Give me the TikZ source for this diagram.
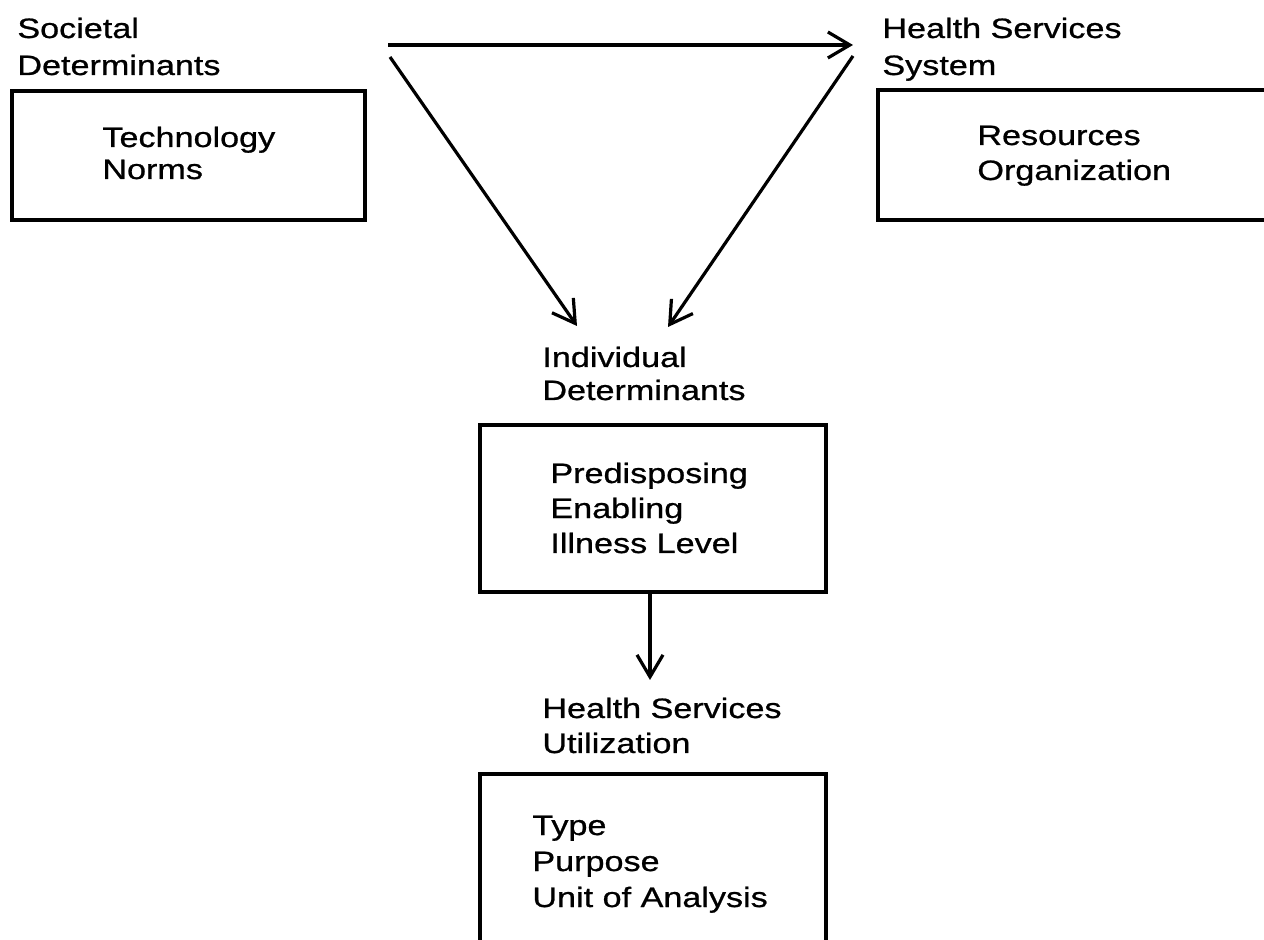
\documentclass[tikz,border=0pt]{standalone}
\usepackage{fontspec}
\setmainfont{Liberation Sans}[FakeStretch=1.22,FakeBold=0.8]
\usetikzlibrary{arrows.meta}
\begin{document}
\begin{tikzpicture}[x=0.5pt,y=-0.5pt,
  box/.style={draw, line width=1.7pt, inner sep=0pt},
  lbl/.style={anchor=base west, inner sep=0pt, align=left, font=\fontsize{14pt}{#1}\selectfont},
  conn/.style={line width=1.6pt, -{Straight Barb[length=11pt,width=13pt,line width=1.6pt]}}
]
\useasboundingbox (0,0) rectangle (1264,940);
\clip (0,0) rectangle (1264,940);

% boxes
\node[box, minimum width=176.5pt, minimum height=64.5pt] (socbox) at (188.5,155.5) {};
\node[box, minimum width=197pt, minimum height=65pt] (hssbox) at (1075,155) {};
\node[box, minimum width=173pt, minimum height=83.5pt] (indbox) at (653,508.5) {};
\node[box, minimum width=173pt, minimum height=87pt] (hsubox) at (653,861) {};

% labels (anchored at the baseline of their last line)
\node[lbl=18.5pt] (socl) at (17,75) {Societal\\Determinants};
\node[lbl=16pt] (soct) at (102,179) {Technology\\Norms};
\node[lbl=18.5pt] (hssl) at (882,75) {Health Services\\System};
\node[lbl=17.5pt] (hsst) at (977,180) {Resources\\Organization};
\node[lbl=16.5pt] (indl) at (542,400) {Individual\\Determinants};
\node[lbl=17.5pt] (indt) at (550,553) {Predisposing\\Enabling\\Illness Level};
\node[lbl=17.5pt] (hsul) at (542,753) {Health Services\\Utilization};
\node[lbl=18pt] (hsut) at (532,907) {Type\\Purpose\\Unit of Analysis};

% connector end points
\coordinate (a1) at (388,45);
\coordinate (a2) at (853,45);
\coordinate (b1) at (390,57);
\coordinate (b2) at (577,326);
\coordinate (c1) at (853,56);
\coordinate (c2) at (668,327);
\coordinate (d1) at (650,592);
\coordinate (d2) at (650,680);

\draw[conn] (a1) -- (a2);
\draw[conn] (b1) -- (b2);
\draw[conn] (c1) -- (c2);
\draw[conn] (d1) -- (d2);
\end{tikzpicture}
\end{document}
